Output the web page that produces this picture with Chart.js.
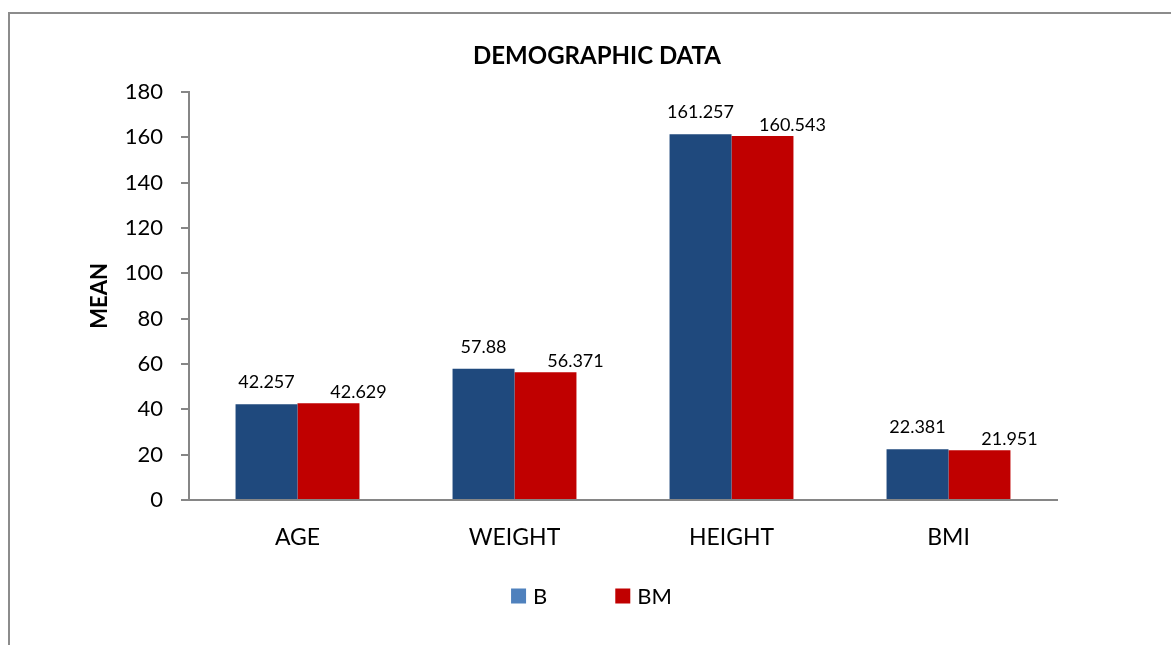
<!DOCTYPE html>
<html>
<head>
<meta charset="utf-8">
<script src="https://cdn.jsdelivr.net/npm/chart.js@4.4.1/dist/chart.umd.min.js"></script>
<style>
	html, body { margin: 0; padding: 0; background: #fff; overflow: hidden; }
	.frame {
		position: absolute; left: 8px; top: 12px;
		width: 1300px; height: 800px;
		border: 2px solid #8c8c8c;
	}
	#chart { position: absolute; left: 0; top: 0; }
</style>
</head>
<body>
<div class="frame"></div>
<canvas id="chart" width="1171" height="645"></canvas>
<script>
const categories = ['AGE', 'WEIGHT', 'HEIGHT', 'BMI'];
const seriesB = [42.257, 57.88, 161.257, 22.381];
const seriesBM = [42.629, 56.371, 160.543, 21.951];

const FONT = 'Lato, "Open Sans", sans-serif';
const AXIS_GREY = '#868686';

// 値ラベル：系列ごとのずらし量（バー上端の中心から）
const LABEL_SHIFT = [
	{ dx: 0, dy: -22 },
	{ dx: 30, dy: -11 },
];

const valueLabels = {
	id: 'valueLabels',
	afterDatasetsDraw(chart) {
		const { ctx } = chart;
		ctx.save();
		ctx.font = `18px ${FONT}`;
		ctx.fillStyle = '#000';
		ctx.textAlign = 'center';
		ctx.textBaseline = 'middle';
		chart.data.datasets.forEach((ds, di) => {
			const meta = chart.getDatasetMeta(di);
			const shift = LABEL_SHIFT[di];
			meta.data.forEach((bar, i) => {
				ctx.fillText(String(ds.data[i]), bar.x + shift.dx, bar.y + shift.dy);
			});
		});
		ctx.restore();
	},
};

// 凡例（B の見本色はバーより明るい青）
const swatchLegend = {
	id: 'swatchLegend',
	afterDraw(chart) {
		const { ctx } = chart;
		const items = chart.data.datasets.map((ds) => ({ text: ds.label, color: ds.legendColor }));
		ctx.save();
		ctx.font = `22px ${FONT}`;
		ctx.textBaseline = 'middle';
		const box = 15;
		const gap = 7;
		const spacing = 68;
		const widths = items.map((it) => box + gap + ctx.measureText(it.text).width);
		const total = widths.reduce((a, b) => a + b, 0) + spacing * (items.length - 1);
		let x = chart.width / 2 + 6 - total / 2;
		const y = 596;
		items.forEach((it, i) => {
			ctx.fillStyle = it.color;
			ctx.fillRect(x, y - box / 2, box, box);
			ctx.fillStyle = '#000';
			ctx.fillText(it.text, x + box + gap, y + 1);
			x += widths[i] + spacing;
		});
		ctx.restore();
	},
};

new Chart(document.getElementById('chart'), {
	type: 'bar',
	data: {
		labels: categories,
		datasets: [
			{ label: 'B', data: seriesB, backgroundColor: '#1F497D', legendColor: '#4F81BD' },
			{ label: 'BM', data: seriesBM, backgroundColor: '#C00000', legendColor: '#C00000' },
		],
	},
	options: {
		responsive: false,
		animation: false,
		layout: { padding: { left: 23, right: 0, top: 0, bottom: 0 } },
		datasets: {
			bar: { categoryPercentage: 0.571, barPercentage: 1, borderWidth: 0 },
		},
		scales: {
			x: {
				grid: { display: false, drawTicks: false },
				border: { display: true, color: AXIS_GREY, width: 2 },
				ticks: { color: '#000', font: { family: FONT, size: 23 }, padding: 24 },
				afterFit: (scale) => { scale.height = 145; },
			},
			y: {
				min: 0,
				max: 180,
				ticks: { stepSize: 20, color: '#000', font: { family: FONT, size: 22 }, padding: 18 },
				grid: { drawOnChartArea: false, drawTicks: true, tickLength: 8, color: AXIS_GREY, lineWidth: 2 },
				border: { display: true, color: AXIS_GREY, width: 2 },
				title: {
					display: true,
					text: 'MEAN',
					color: '#000',
					font: { family: FONT, size: 22, weight: 'bold' },
					padding: { top: 64, bottom: 0 },
				},
				afterFit: (scale) => { scale.width = 166; },
			},
			// 右側の空白（描画なし）
			yRight: {
				position: 'right',
				grid: { display: false },
				border: { display: false },
				ticks: { display: false },
				afterFit: (scale) => { scale.width = 114; },
			},
		},
		plugins: {
			legend: { display: false },
			tooltip: { enabled: false },
			title: {
				display: true,
				text: 'DEMOGRAPHIC DATA',
				color: '#000',
				font: { family: FONT, size: 24, weight: 'bold' },
				padding: { top: 42, bottom: 21 },
			},
		},
	},
	plugins: [valueLabels, swatchLegend],
});
</script>
</body>
</html>
